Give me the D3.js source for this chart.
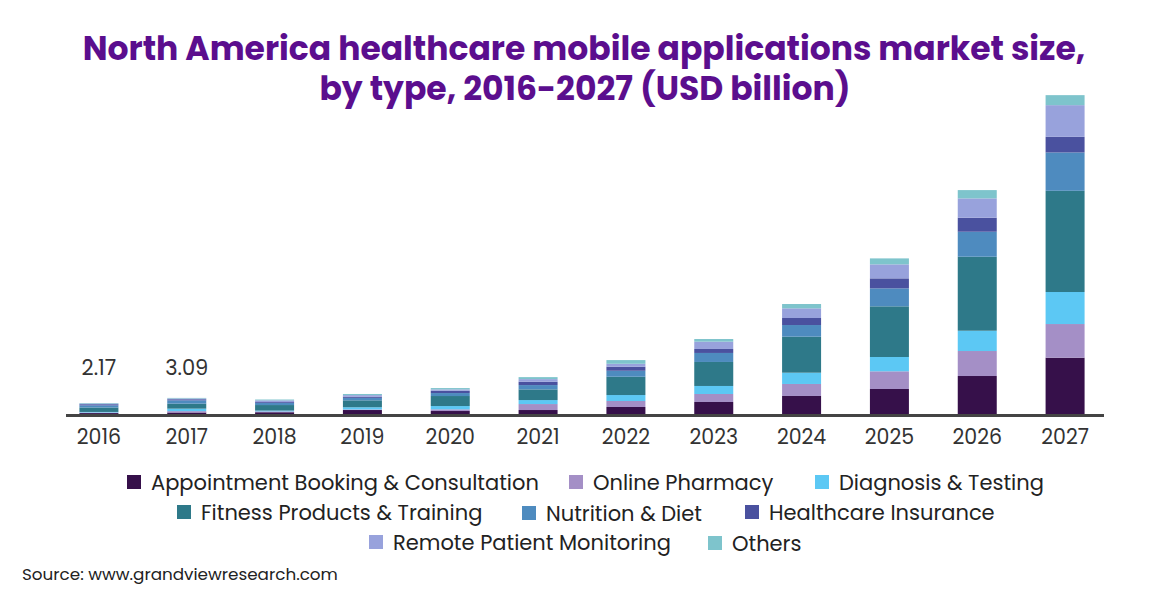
<!DOCTYPE html>
<html>
<head>
<meta charset="utf-8">
<script src="https://cdn.jsdelivr.net/npm/d3@7"></script>
<style>
  html, body { margin: 0; padding: 0; background: #fff; }
  svg { display: block; font-family: "Poppins", "Open Sans", sans-serif; }
</style>
</head>
<body>
<svg id="chart" width="1170" height="603"></svg>
<script>
// ---- data ----
const years = ["2016","2017","2018","2019","2020","2021","2022","2023","2024","2025","2026","2027"];
const seriesNames = ["Appointment Booking & Consultation","Online Pharmacy","Diagnosis & Testing","Fitness Products & Training","Nutrition & Diet","Healthcare Insurance","Remote Patient Monitoring","Others"];
const appointment = [0.35,0.45,0.50,0.90,0.72,0.90,1.45,2.35,3.44,4.70,7.05,10.36];
const pharmacy    = [0.10,0.25,0.15,0.10,0.30,1.08,1.08,1.45,2.17,3.20,4.52,6.09];
const diagnosis   = [0.10,0.45,0.15,0.40,0.60,0.72,1.08,1.45,2.04,2.59,3.67,5.79];
const fitness     = [0.80,0.90,1.00,1.25,1.81,1.93,3.31,4.34,6.51,9.16,13.38,18.30];
const nutrition   = [0.40,0.60,0.40,0.45,0.54,0.78,1.08,1.63,2.11,3.25,4.52,6.93];
const insurance   = [0.20,0.20,0.15,0.20,0.42,0.60,0.72,0.72,1.27,1.81,2.53,2.83];
const remote      = [0.12,0.14,0.30,0.30,0.24,0.48,0.54,1.32,1.75,2.53,3.50,5.73];
const others      = [0.10,0.10,0.15,0.20,0.24,0.36,0.67,0.48,0.78,1.08,1.50,1.81];
const labelYears  = ["2016","2017"];
const labelValues = ["2.17","3.09"];
const colors = ["#36104a","#a48fc6","#5cc8f4","#2e7989","#4e8bbf","#4a519f","#98a2dc","#7ec4cc"];

// ---- build table ----
const seriesArrays = [appointment, pharmacy, diagnosis, fitness, nutrition, insurance, remote, others];
const table = years.map((y, i) => {
  const row = { year: y };
  seriesNames.forEach((s, k) => row[s] = seriesArrays[k][i]);
  return row;
});

const svg = d3.select("#chart");
const x = d3.scaleBand().domain(years).range([55, 1109]).paddingInner(0.556).paddingOuter(0.278);
const y = d3.scaleLinear().domain([0, 60]).range([415, 415 - 60 * 5.53]);
const color = d3.scaleOrdinal().domain(seriesNames).range(colors);

const stacked = d3.stack().keys(seriesNames)(table);

svg.append("g").selectAll("g").data(stacked).join("g")
  .attr("fill", d => color(d.key))
  .selectAll("rect").data(d => d).join("rect")
  .attr("x", d => x(d.data.year))
  .attr("width", x.bandwidth())
  .attr("y", d => y(d[1]))
  .attr("height", d => y(d[0]) - y(d[1]));

// axis
const xAxis = d3.axisBottom(x).tickSize(0).tickPadding(14);
const gx = svg.append("g").attr("transform", "translate(0,415)").call(xAxis);
gx.select(".domain").remove();
gx.selectAll("text").attr("font-size", 20.5).attr("fill", "#333").attr("font-family", "Poppins, 'Open Sans', sans-serif");
svg.append("line").attr("x1", 66).attr("x2", 1104).attr("y1", 415.5).attr("y2", 415.5)
  .attr("stroke", "#444").attr("stroke-width", 3);

// value labels
svg.append("g").selectAll("text").data(labelYears).join("text")
  .attr("x", d => x(d) + x.bandwidth() / 2)
  .attr("y", 375)
  .attr("text-anchor", "middle")
  .attr("font-size", 21)
  .attr("fill", "#333")
  .text((d, i) => labelValues[i]);

// title
const title = svg.append("text").attr("text-anchor", "middle").attr("fill", "#5b0e8e")
  .attr("font-weight", "bold").attr("font-size", 33);
title.append("tspan").attr("x", 584).attr("y", 60).text("North America healthcare mobile applications market size,");
title.append("tspan").attr("x", 585).attr("y", 100).text("by type, 2016-2027 (USD billion)");

// legend
const legendPos = [[127,490],[569,490],[815,490],[177,520],[522,521],[745,520],[369,550],[708,551]];
const lg = svg.append("g").selectAll("g").data(seriesNames).join("g")
  .attr("transform", (d, i) => `translate(${legendPos[i][0]},${legendPos[i][1]})`);
lg.append("rect").attr("x", 0).attr("y", -15).attr("width", 14).attr("height", 14).attr("fill", d => color(d));
lg.append("text").attr("x", 24).attr("y", 0).attr("font-size", 21).attr("fill", "#222").text(d => d);

// source
svg.append("text").attr("x", 22).attr("y", 580).attr("font-size", 16.8).attr("fill", "#222")
  .text("Source: www.grandviewresearch.com");
</script>
</body>
</html>
